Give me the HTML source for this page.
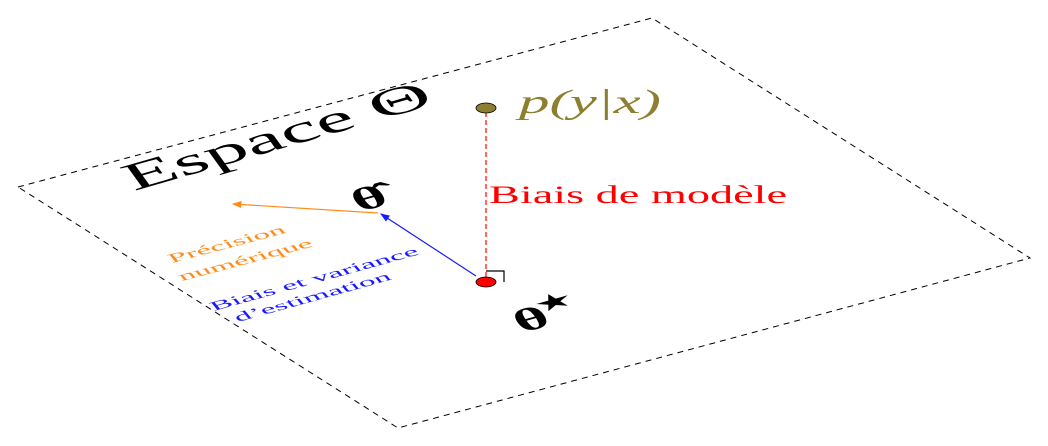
<!DOCTYPE html>
<html><head><meta charset="utf-8"><style>
html,body{margin:0;padding:0;background:#fff;width:1048px;height:446px;overflow:hidden}
svg text{font-family:"Liberation Serif","DejaVu Serif",serif}
</style></head><body>
<svg width="1048" height="446" viewBox="0 0 1048 446">
<defs>
<marker id="ao" markerWidth="8" markerHeight="6" refX="7" refY="3" orient="auto"><path d="M0,0 L8,3 L0,6 Z" fill="#ff8c1a"/></marker>
<marker id="ab" markerWidth="8" markerHeight="6" refX="7" refY="3" orient="auto"><path d="M0,0 L8,3 L0,6 Z" fill="#1a1aff"/></marker>
</defs>
<polygon points="18,187 652,18 1030,258 398,428" fill="none" stroke="#000" stroke-width="1" stroke-dasharray="6,5"/>
<text transform="matrix(1.42,-0.41,0.45,0.62,134,191)" font-size="56" fill="#000">Espace Θ</text>
<text transform="matrix(1.5,-0.42,0.5,0.72,360,212)" font-size="40" font-weight="bold" fill="#000">θ̂</text>
<text transform="matrix(1.5,-0.42,0.5,0.72,522,333)" font-size="40" font-weight="bold" fill="#000">θ<tspan font-size="24" dy="-18" dx="-2">★</tspan></text>
<text transform="matrix(1.63,-0.43,0.5,0.6,172,263)" font-size="19" fill="#ff8c1a">Précision</text>
<text transform="matrix(1.63,-0.43,0.5,0.6,182,281)" font-size="19" fill="#ff8c1a">numérique</text>
<text transform="matrix(1.63,-0.45,0.5,0.6,214,311)" font-size="19" fill="#1a1aff">Biais et variance</text>
<text transform="matrix(1.63,-0.45,0.5,0.6,238,322)" font-size="19" fill="#1a1aff">d’estimation</text>
<line x1="378" y1="213" x2="233" y2="204" stroke="#ff8c1a" stroke-width="1.2" marker-end="url(#ao)"/>
<line x1="476" y1="276" x2="381" y2="214" stroke="#1a1aff" stroke-width="1.2" marker-end="url(#ab)"/>
<line x1="486" y1="112" x2="486" y2="277" stroke="#ff0000" stroke-width="1.2" stroke-dasharray="5,3"/>
<polyline points="486,271 504,271 504,282" fill="none" stroke="#000" stroke-width="1.2"/>
<ellipse cx="486" cy="108" rx="10" ry="5" fill="#8c8030" stroke="#000" stroke-width="0.8"/>
<ellipse cx="486" cy="282" rx="10" ry="5" fill="#ff0000" stroke="#000" stroke-width="0.8"/>
<text x="519" y="113" font-size="34" font-style="italic" fill="#8c8030" textLength="142" lengthAdjust="spacingAndGlyphs">p(y|x)</text>
<text x="489" y="203" font-size="25" fill="#ff0000" textLength="298" lengthAdjust="spacingAndGlyphs">Biais de modèle</text>
</svg>
</body></html>
